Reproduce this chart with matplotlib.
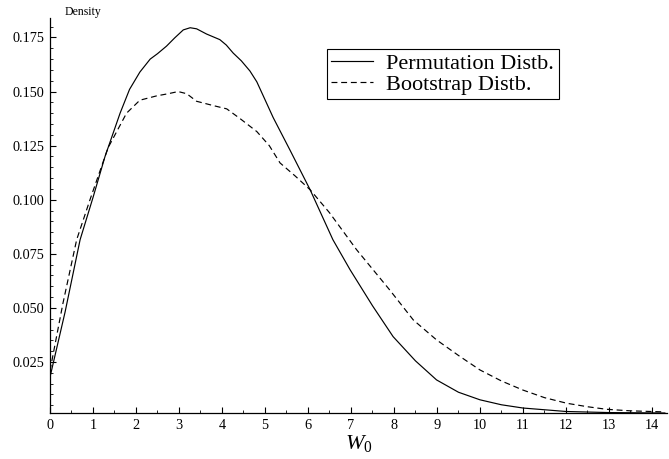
import numpy as np
import matplotlib
matplotlib.use('Agg')
import matplotlib.pyplot as plt
from matplotlib.ticker import MultipleLocator, FormatStrFormatter

plt.rcParams['font.family'] = ['Liberation Serif', 'DejaVu Serif']
plt.rcParams['mathtext.fontset'] = 'custom'
plt.rcParams['mathtext.rm'] = 'Liberation Serif'
plt.rcParams['mathtext.it'] = 'Liberation Serif:italic'

# ## Data ## #
permX = [0.0, 0.35, 0.7, 1.0, 1.28, 1.63, 1.85, 2.09, 2.33, 2.5, 2.71,
         2.9, 3.1, 3.26, 3.41, 3.64, 3.95, 4.1, 4.26, 4.45, 4.65, 4.81,
         4.96, 5.19, 5.58, 6.05, 6.58, 6.98, 7.5, 7.98, 8.5, 8.99, 9.5,
         10.0, 10.5, 11.0, 12.0, 13.0, 14.3]
permY = [0.018, 0.048, 0.0815, 0.101, 0.120, 0.140, 0.151, 0.159, 0.165,
         0.1675, 0.171, 0.1748, 0.1785, 0.1795, 0.179, 0.1766, 0.174,
         0.1715, 0.1678, 0.1642, 0.1595, 0.1545, 0.148, 0.138, 0.123,
         0.1046, 0.0815, 0.0676, 0.051, 0.0367, 0.0255, 0.0167, 0.011,
         0.0075, 0.0052, 0.0037, 0.0021, 0.0016, 0.0014]

bootX = [0.0, 0.3, 0.62, 0.93, 1.35, 1.78, 2.09, 2.48, 2.75, 2.98, 3.18,
         3.41, 3.8, 4.11, 4.42, 4.81, 5.1, 5.35, 5.7, 6.05, 6.5, 7.13,
         7.9, 8.45, 8.99, 9.5, 10.0, 10.5, 11.0, 11.5, 12.02, 12.5,
         12.95, 13.5, 14.3]
bootY = [0.021, 0.052, 0.0815, 0.100, 0.124, 0.140, 0.146, 0.148, 0.149,
         0.150, 0.149, 0.1455, 0.1435, 0.142, 0.1375, 0.1315, 0.125, 0.117,
         0.111, 0.1046, 0.094, 0.0769, 0.0583, 0.0444, 0.0352, 0.028,
         0.0213, 0.0162, 0.012, 0.0085, 0.0059, 0.0043, 0.0031, 0.0024,
         0.0019]

xTicks = list(range(0, 15))
yTicks = [0.025, 0.050, 0.075, 0.100, 0.125, 0.150, 0.175]

xmin, xmax = 0, 14.35
ymin, ymax = 0.0014, 0.184

fig = plt.figure(figsize=(6.69, 4.59), dpi=100)
ax = fig.add_axes([50 / 669, 46 / 459, 617 / 669, 395 / 459])

ax.plot(permX, permY, color='black', lw=0.85, label='Permutation Distb.')
ax.plot(bootX, bootY, color='black', lw=0.85, dashes=(5, 3.2),
        label='Bootstrap Distb.')

ax.set_xlim(xmin, xmax)
ax.set_ylim(ymin, ymax)

for side in ['top', 'right']:
    ax.spines[side].set_visible(False)
for side in ['left', 'bottom']:
    ax.spines[side].set_linewidth(0.9)

ax.set_xticks(xTicks)
ax.set_yticks(yTicks)
ax.xaxis.set_minor_locator(MultipleLocator(0.5))
ax.yaxis.set_minor_locator(MultipleLocator(0.005))
ax.yaxis.set_major_formatter(FormatStrFormatter('%.3f'))
ax.tick_params(which='major', direction='in', length=4, width=0.8,
               labelsize=10.3)
ax.tick_params(which='minor', direction='in', length=2.4, width=0.6)
ax.tick_params(axis='x', pad=4)
ax.tick_params(axis='y', pad=4)

ax.text(65 / 669, 1 - 12 / 459, 'Density', transform=fig.transFigure,
        fontsize=8.5, ha='left', va='center')
ax.set_xlabel(r'$W_0$', fontsize=16, labelpad=1)

leg = ax.legend(loc='upper left', bbox_to_anchor=(327 / 669, 1 - 49 / 459),
                bbox_transform=fig.transFigure, fontsize=16, frameon=True,
                fancybox=False, edgecolor='black', framealpha=1,
                handlelength=1.85, handletextpad=0.62, borderpad=0.2,
                labelspacing=0.0, borderaxespad=0)
leg.get_frame().set_linewidth(0.8)

plt.savefig('out.png', dpi=100)
